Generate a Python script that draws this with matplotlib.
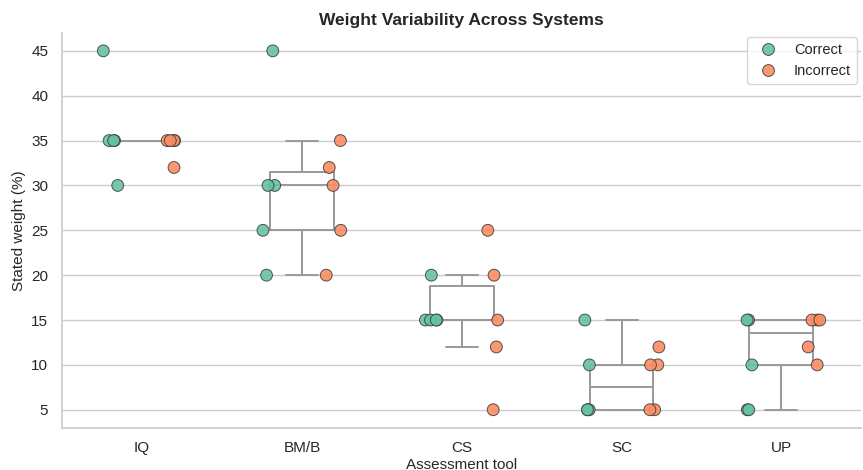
import matplotlib
matplotlib.use("Agg")
import matplotlib.pyplot as plt
import numpy as np
import pandas as pd
import seaborn as sns

tools = ["IQ", "BM/B", "CS", "SC", "UP"]
# stated weights (%) per tool, 5 correct + 5 incorrect
correct = {
    "IQ": [45, 35, 35, 35, 30],
    "BM/B": [45, 30, 30, 25, 20],
    "CS": [20, 15, 15, 15, 15],
    "SC": [15, 10, 5, 5, 5],
    "UP": [15, 15, 10, 5, 5],
}
incorrect = {
    "IQ": [35, 35, 35, 35, 32],
    "BM/B": [35, 32, 30, 25, 20],
    "CS": [25, 20, 15, 12, 5],
    "SC": [12, 10, 10, 5, 5],
    "UP": [15, 15, 15, 12, 10],
}

rows = []
for t in tools:
    for v in correct[t]:
        rows.append((t, v, "Correct"))
    for v in incorrect[t]:
        rows.append((t, v, "Incorrect"))
df = pd.DataFrame(rows, columns=["tool", "weight", "result"])

sns.set_theme(style="whitegrid")
plt.rcParams["font.family"] = ["Liberation Sans", "DejaVu Sans"]

fig, ax = plt.subplots(figsize=(8.63, 4.7), dpi=100)
fig.subplots_adjust(left=0.072, right=0.998, top=0.93, bottom=0.09)

sns.boxplot(data=df, x="tool", y="weight", order=tools, width=0.4,
            fill=False, color="0.6", linewidth=1.4, showfliers=False, ax=ax)

np.random.seed(7)
sns.stripplot(data=df, x="tool", y="weight", hue="result", order=tools,
              hue_order=["Correct", "Incorrect"], palette="Set2",
              dodge=True, jitter=True, size=8.5, alpha=0.9,
              edgecolor="0.25", linewidth=0.7, ax=ax)

ax.set_title("Weight Variability Across Systems", fontsize=12.5, fontweight="bold")
ax.set_xlabel("Assessment tool", fontsize=11, labelpad=2)
ax.set_ylabel("Stated weight (%)", fontsize=11)
ax.tick_params(labelsize=11)
ax.tick_params(axis="y", pad=4)
ax.set_yticks(range(5, 50, 5))
ax.legend(loc="upper right", fontsize=10.5, title=None, borderaxespad=0.3)
sns.despine(ax=ax)

fig.savefig("out.png", dpi=100)
